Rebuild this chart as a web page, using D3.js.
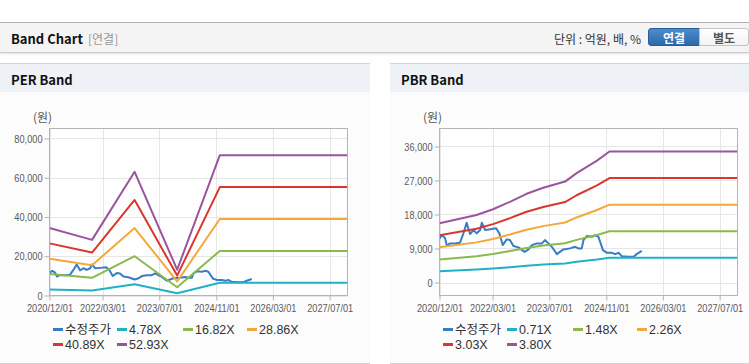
<!DOCTYPE html>
<html>
<head>
<meta charset="utf-8">
<script src="https://cdn.jsdelivr.net/npm/d3@7"></script>
<style>
body { margin:0; width:749px; height:364px; overflow:hidden; background:#fff; position:relative;
       font-family:"Liberation Sans","Noto Sans CJK KR",sans-serif; }
.topbar { position:absolute; left:0; top:22px; width:749px; height:29px; background:#f4f4f4;
          border-top:1px solid #b4b4b4; border-bottom:1px solid #cccccc; box-shadow:0 1px 2px rgba(0,0,0,0.12); }
.title { position:absolute; left:11px; top:6px; font:bold 13px "Noto Sans CJK KR",sans-serif; color:#111; }
.sub { position:absolute; left:88px; top:7px; font:12px "Noto Sans CJK KR",sans-serif; color:#999; }
.unit { position:absolute; right:108px; top:7px; font:12px "Noto Sans CJK KR",sans-serif; color:#333; }
.btn { position:absolute; top:5px; height:18px; line-height:18px; text-align:center;
       font:bold 12px "Noto Sans CJK KR",sans-serif; box-sizing:border-box; }
.on { left:648px; width:52px; color:#fff; background:linear-gradient(#4d8bcb,#2c69ab);
      border:1px solid #2a5d96; border-radius:3px 0 0 3px; }
.off { left:699px; width:50px; color:#555; background:linear-gradient(#fff,#f3f3f3);
       border:1px solid #c4c4c4; border-radius:0 3px 3px 0; }
.panel { position:absolute; top:63px; height:299px; background:#fcfcfc;
         border-top:1px solid #d3d3d3; border-bottom:1px solid #d3d3d3; }
.phead { height:28px; background:#eef2f7; }
.phead span { position:absolute; left:11px; top:6px; font:bold 13px "Noto Sans CJK KR",sans-serif; color:#111; }
svg { position:absolute; left:0; top:0; }
</style>
</head>
<body>
<div class="topbar">
  <div class="title">Band Chart</div>
  <div class="sub">[연결]</div>
  <div class="unit">단위 : 억원, 배, %</div>
  <div class="btn on">연결</div>
  <div class="btn off">별도</div>
</div>
<div class="panel" style="left:0;width:370px"><div class="phead"><span>PER Band</span></div></div>
<div class="panel" style="left:390px;width:359px"><div class="phead"><span>PBR Band</span></div></div>
<svg id="chart" width="749" height="364"></svg>
<script>
// 수정주가 (shared by both charts)
var priceDates = ["2020-12-01","2020-12-07","2020-12-26","2021-01-18","2021-02-03","2021-02-25","2021-04-13",
  "2021-05-25","2021-06-24","2021-07-22","2021-08-20","2021-09-18","2021-10-16","2021-11-15","2021-11-29",
  "2021-12-28","2022-02-09","2022-04-01","2022-04-28","2022-05-27","2022-07-01","2022-07-28","2022-08-27",
  "2022-10-09","2022-12-01","2023-01-04","2023-02-01","2023-03-15","2023-04-28","2023-05-25","2023-06-22",
  "2023-07-22","2023-09-04","2023-10-29","2023-12-25","2024-02-07","2024-03-07","2024-04-04","2024-04-19",
  "2024-05-17","2024-07-01","2024-07-28","2024-08-25","2024-10-03","2024-11-07","2024-12-19","2025-01-16",
  "2025-02-15","2025-03-13","2025-05-10","2025-06-22","2025-07-19","2025-09-01"];
var priceValues = [11600,11950,12560,11680,9640,10350,10350,
  10510,13010,15820,12820,13880,13010,13880,15820,
  13880,14070,14340,13010,9900,11420,11230,9640,
  9290,8120,8760,9900,10350,10350,11230,10350,
  9450,7510,8760,9030,9450,9030,9030,11230,
  12290,12110,12560,12110,8580,7860,7860,7510,
  7860,6980,6800,6800,7510,8390];

// PER band
var perDates = ["2020-12-01","2021-12-01","2022-12-01","2023-12-01","2024-12-01","2027-12-01"];
var perLabels = ["4.78X","16.82X","28.86X","40.89X","52.93X"];
var per478 = [3100,2560,5690,1190,6450,6450];
var per1682 = [10920,9000,20020,4170,22710,22710];
var per2886 = [18730,15440,34340,7160,38960,38960];
var per4089 = [26540,21880,48660,10140,55200,55200];
var per5293 = [34350,28320,62990,13130,71460,71460];
var perTicks = [0,20000,40000,60000,80000];

// PBR band
var pbrDates = ["2020-12-01","2021-10-15","2022-03-05","2022-07-28","2022-12-18","2023-05-10",
  "2023-11-13","2024-02-20","2024-08-13","2024-11-28","2027-12-01"];
var pbrLabels = ["0.71X","1.48X","2.26X","3.03X","3.80X"];
var pbr071 = [2990,3420,3700,4060,4450,4760,5060,5480,6080,6530,6530];
var pbr148 = [6100,6960,7550,8320,9150,9770,10400,11280,12570,13550,13550];
var pbr226 = [9310,10620,11530,12700,13970,14920,15890,17220,19190,20610,20610];
var pbr303 = [12480,14240,15450,17030,18730,20000,21300,23090,25720,27630,27630];
var pbr380 = [15660,17860,19380,21360,23480,25080,26710,28960,32260,34660,34660];
var pbrTicks = [0,9000,18000,27000,36000];

var xTickDates = ["2020-12-01","2022-03-01","2023-07-01","2024-11-01","2026-03-01","2027-07-01"];
var colors = ["#3a7bc6","#21b1c7","#8ab94c","#f4a83a","#d8362e","#9a549f"];

var parse = d3.timeParse("%Y-%m-%d");
var svg = d3.select("#chart");

function drawBand(ox, yDomain, yTicks, dates, bands, labels) {
    var g = svg.append("g").attr("transform", "translate(" + ox + ",0)");
    var left = 49.5, right = 347.5, top = 128.5, bottom = 295.5;

    var x = d3.scaleTime()
        .domain([parse("2020-12-01"), parse("2027-12-01")])
        .range([left, right]);
    var y = d3.scaleLinear().domain(yDomain).range([bottom, top]);

    g.append("rect")
        .attr("x", left).attr("y", top)
        .attr("width", right - left).attr("height", bottom - top)
        .attr("fill", "#fff");

    // grid
    g.selectAll(".vg").data(xTickDates.map(parse)).enter().append("line")
        .attr("x1", function(d) { return Math.round(x(d)) + 0.5; })
        .attr("x2", function(d) { return Math.round(x(d)) + 0.5; })
        .attr("y1", top).attr("y2", bottom)
        .attr("stroke", "#e6e6e6");
    g.selectAll(".hg").data(yTicks).enter().append("line")
        .attr("x1", left).attr("x2", right)
        .attr("y1", function(d) { return Math.round(y(d)) + 0.5; })
        .attr("y2", function(d) { return Math.round(y(d)) + 0.5; })
        .attr("stroke", "#e6e6e6");

    // series
    var line = d3.line()
        .x(function(d) { return x(d[0]); })
        .y(function(d) { return y(d[1]); });

    g.append("path")
        .datum(priceDates.map(function(d, i) { return [parse(d), priceValues[i]]; }))
        .attr("d", line).attr("fill", "none")
        .attr("stroke", colors[0]).attr("stroke-width", 2).attr("stroke-linejoin", "round");

    bands.forEach(function(vals, k) {
        g.append("path")
            .datum(dates.map(function(d, i) { return [parse(d), vals[i]]; }))
            .attr("d", line).attr("fill", "none")
            .attr("stroke", colors[k + 1]).attr("stroke-width", 2).attr("stroke-linejoin", "round");
    });

    // border
    g.append("rect")
        .attr("x", left).attr("y", top)
        .attr("width", right - left).attr("height", bottom - top)
        .attr("fill", "none").attr("stroke", "#b4b4b4");

    // axes
    var ya = g.append("g").attr("transform", "translate(" + left + ",0)")
        .call(d3.axisLeft(y).tickValues(yTicks).tickSize(5).tickPadding(2).tickFormat(d3.format(",")));
    var xa = g.append("g").attr("transform", "translate(0," + bottom + ")")
        .call(d3.axisBottom(x).tickValues(xTickDates.map(parse)).tickSize(5).tickPadding(3)
            .tickFormat(d3.timeFormat("%Y/%m/%d")));
    [ya, xa].forEach(function(a) {
        a.select(".domain").remove();
        a.selectAll("line").attr("stroke", "#b4b4b4");
        a.selectAll("text").attr("fill", "#5a5a5a")
            .style("font-family", "'Liberation Sans', sans-serif")
            .style("font-size", "11.5px")
            .each(function() {
                // narrow the glyphs like the original gulim-style labels
                var w = this.getComputedTextLength();
                d3.select(this).attr("textLength", w * 0.8).attr("lengthAdjust", "spacingAndGlyphs");
            });
    });

    g.append("text")
        .attr("x", 33).attr("y", 122)
        .attr("fill", "#555")
        .style("font-family", "'Noto Sans CJK KR', sans-serif").style("font-size", "12px")
        .text("(원)");

    // legend
    var names = ["수정주가"].concat(labels);
    var lg = g.selectAll(".lg").data(names).enter().append("g")
        .attr("transform", function(d, i) {
            var col = i % 4, row = Math.floor(i / 4);
            return "translate(" + [53, 117, 183, 247][col] + "," + (329.5 + row * 15) + ")";
        });
    lg.append("line")
        .attr("x1", 0).attr("x2", 10).attr("y1", 0).attr("y2", 0)
        .attr("stroke", function(d, i) { return colors[i]; })
        .attr("stroke-width", 3);
    lg.append("text")
        .attr("x", 12).attr("y", 4.5)
        .attr("fill", "#333")
        .style("font-family", "'Liberation Sans', 'Noto Sans CJK KR', sans-serif").style("font-size", "12.5px")
        .text(function(d) { return d; });
}

drawBand(0, [0, 85050], perTicks, perDates, [per478, per1682, per2886, per4089, per5293], perLabels);
drawBand(390, [-3440, 40760], pbrTicks, pbrDates, [pbr071, pbr148, pbr226, pbr303, pbr380], pbrLabels);
</script>
</body>
</html>
